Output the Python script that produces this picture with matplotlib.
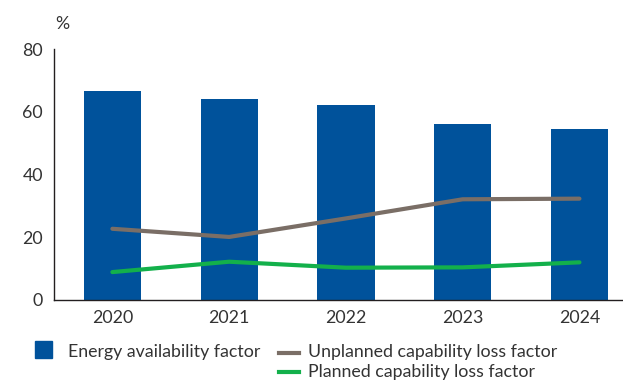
import matplotlib
matplotlib.use("Agg")
import matplotlib.pyplot as plt
import matplotlib.patches as mpatches
import matplotlib.lines as mlines
import numpy as np

years = ["2020", "2021", "2022", "2023", "2024"]
energy_availability = [66.6, 64.0, 62.1, 56.1, 54.5]
unplanned_loss = [22.7, 20.1, 26.0, 32.1, 32.3]
planned_loss = [8.9, 12.2, 10.3, 10.4, 12.0]

blue = "#00529B"
grey = "#7A6E66"
green = "#13B04B"
text_color = "#333333"

plt.rcParams["font.family"] = ["Lato", "DejaVu Sans"]
plt.rcParams["font.weight"] = "normal"
plt.rcParams["font.size"] = 12.8

W, H = 623, 382
fig = plt.figure(figsize=(W / 100, H / 100), dpi=100)


def px(x, y):
    # pixel position (from top-left) to figure fraction
    return x / W, 1 - y / H


ax = fig.add_axes([54 / W, 82 / H, 1 - 54 / W, 251 / H])

x = np.arange(len(years))
ax.bar(x, energy_availability, width=0.49, color=blue, zorder=2)
ax.plot(x, unplanned_loss, color=grey, lw=3, solid_capstyle="round", zorder=3)
ax.plot(x, planned_loss, color=green, lw=3, solid_capstyle="round", zorder=3)

ax.set_xlim(-0.5, 4.373)
ax.set_ylim(0, 80)
ax.set_yticks([0, 20, 40, 60, 80])
ax.set_xticks(x)
ax.set_xticklabels(years)
ax.tick_params(length=0, colors=text_color, labelsize=12.8)
ax.tick_params(axis="x", pad=7)
ax.tick_params(axis="y", pad=8)
for side in ["top", "right"]:
    ax.spines[side].set_visible(False)
for side in ["left", "bottom"]:
    ax.spines[side].set_color("#231F20")
    ax.spines[side].set_linewidth(1)

fig.text(*px(55, 29), "%", color=text_color, va="baseline", ha="left")

# legend keys and labels
fig.add_artist(mpatches.Rectangle(px(35, 357.7), 17 / W, 17 / H,
                                  color=blue, transform=fig.transFigure))
fig.text(*px(68, 356.7), "Energy availability factor", color=text_color,
         va="baseline", ha="left")

for color, label, ykey, ybase in [
        (grey, "Unplanned capability loss factor", 352.7, 356.7),
        (green, "Planned capability loss factor", 372.3, 376.7)]:
    x0, y0 = px(279, ykey)
    x1, _ = px(299, ykey)
    fig.add_artist(mlines.Line2D([x0, x1], [y0, y0], color=color, lw=3,
                                 transform=fig.transFigure))
    fig.text(*px(308, ybase), label, color=text_color,
             va="baseline", ha="left")

fig.savefig("out.png", dpi=100)
